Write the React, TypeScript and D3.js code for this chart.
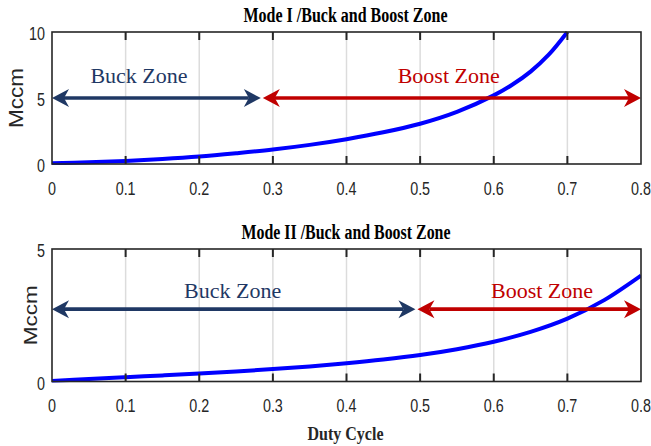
import React from "react";
import * as d3 from "d3";

const dutyTop = [0, 0.05, 0.1, 0.15, 0.2, 0.25, 0.3, 0.35, 0.4, 0.45, 0.5, 0.55, 0.6, 0.625, 0.65, 0.675, 0.7];
const mccmTop = [0.05, 0.13, 0.23, 0.38, 0.57, 0.82, 1.1, 1.45, 1.88, 2.4, 3.05, 3.95, 5.2, 6.0, 7.0, 8.3, 10];

const dutyBot = [0, 0.05, 0.1, 0.15, 0.2, 0.25, 0.3, 0.35, 0.4, 0.45, 0.5, 0.55, 0.6, 0.65, 0.7, 0.75, 0.8];
const mccmBot = [0.02, 0.09, 0.16, 0.23, 0.3, 0.38, 0.47, 0.57, 0.69, 0.83, 1.0, 1.22, 1.5, 1.87, 2.37, 3.07, 4.0];

const xTicks = [0, 0.1, 0.2, 0.3, 0.4, 0.5, 0.6, 0.7, 0.8];
const xTickLabels = ["0", "0.1", "0.2", "0.3", "0.4", "0.5", "0.6", "0.7", "0.8"];

const panels = [
  {
    title: "Mode I /Buck and Boost Zone",
    titleLen: 204,
    duty: dutyTop,
    mccm: mccmTop,
    yMax: 10,
    yTicks: [0, 5, 10],
    arrowY: 5,
    split: 0.285,
    top: 32,
    bottom: 164,
    ylabelX: 15,
    ylabelSize: 21,
  },
  {
    title: "Mode II /Buck and Boost Zone",
    titleLen: 209,
    duty: dutyBot,
    mccm: mccmBot,
    yMax: 5,
    yTicks: [0, 5],
    arrowY: 2.73,
    split: 0.495,
    top: 249,
    bottom: 381.5,
    ylabelX: 31,
    ylabelSize: 18,
  },
];

const LEFT = 52;
const RIGHT = 641;
const NAVY = "#1f3864";
const RED = "#c00000";

function Arrow({ x1, x2, y, color }: { x1: number; x2: number; y: number; color: string }) {
  const L = 17, W = 9, N = 5;
  const head = (tx: number, dir: number) =>
    `M${tx},${y} L${tx - dir * L},${y - W} L${tx - dir * (L - N)},${y} L${tx - dir * L},${y + W} Z`;
  return (
    <g>
      <line x1={x1 + L - N} x2={x2 - L + N} y1={y} y2={y} stroke={color} strokeWidth={3.6} />
      <path d={head(x1, -1)} fill={color} />
      <path d={head(x2, 1)} fill={color} />
    </g>
  );
}

export default function App() {
  const x = d3.scaleLinear().domain([0, 0.8]).range([LEFT, RIGHT]);
  const tickFont = "'Liberation Sans', Arial, sans-serif";
  const serif = "'Liberation Serif', 'Times New Roman', serif";
  return (
    <div style={{ position: "fixed", left: 0, top: 0 }}>
      <svg width={651} height={446} style={{ display: "block", background: "#fff" }}>
        {panels.map((p, i) => {
          const y = d3.scaleLinear().domain([0, p.yMax]).range([p.bottom, p.top]);
          const pts = p.duty.map((d, k) => [d, p.mccm[k]] as [number, number]);
          const line = d3
            .line<[number, number]>()
            .x((d) => x(d[0]))
            .y((d) => y(d[1]))
            .curve(d3.curveCatmullRom.alpha(0.5));
          const ay = y(p.arrowY);
          const sx = x(p.split);
          return (
            <g key={i}>
              {xTicks.slice(1, -1).map((t) => (
                <line key={t} x1={x(t)} x2={x(t)} y1={p.top} y2={p.bottom} stroke="#dcdcdc" strokeWidth={1.5} />
              ))}
              <clipPath id={`clip${i}`}>
                <rect x={LEFT} y={p.top - 1} width={RIGHT - LEFT} height={p.bottom - p.top + 2} />
              </clipPath>
              <path d={line(pts) || ""} fill="none" stroke="#0000ff" strokeWidth={4} clipPath={`url(#clip${i})`} />
              <Arrow x1={x(0)} x2={sx - 1} y={ay} color={NAVY} />
              <Arrow x1={sx + 1} x2={x(0.8)} y={ay} color={RED} />
              <text x={i === 0 ? 139 : 232.7} y={i === 0 ? 83 : 297.7} textAnchor="middle" fontFamily={serif} fontSize={22} fill={NAVY}>
                Buck Zone
              </text>
              <text x={i === 0 ? 448.7 : 542} y={i === 0 ? 83 : 297.7} textAnchor="middle" fontFamily={serif} fontSize={22} fill={RED}>
                Boost Zone
              </text>
              <rect x={LEFT} y={p.top} width={RIGHT - LEFT} height={p.bottom - p.top} fill="none" stroke="#262626" strokeWidth={1.6} />
              {xTicks.slice(1, -1).map((t) => (
                <g key={"tk" + t}>
                  <line x1={x(t)} x2={x(t)} y1={p.bottom} y2={p.bottom - 8} stroke="#262626" strokeWidth={2} />
                  <line x1={x(t)} x2={x(t)} y1={p.top} y2={p.top + 8} stroke="#262626" strokeWidth={2} />
                </g>
              ))}
              {xTicks.map((t, k) => (
                <g key={"lb" + t} transform={`translate(${x(t)},${p.bottom + 30.5}) scale(0.82,1)`}>
                  <text textAnchor="middle" fontFamily={tickFont} fontSize={17.5} fill="#262626">
                    {xTickLabels[k]}
                  </text>
                </g>
              ))}
              {p.yTicks.map((t) => (
                <g key={"yl" + t} transform={`translate(45,${y(t) + 8})`}>
                  <g transform="scale(0.82,1)">
                    <text textAnchor="end" fontFamily={tickFont} fontSize={17.5} fill="#262626">
                      {String(t)}
                    </text>
                  </g>
                </g>
              ))}
              <text
                transform={`translate(${p.ylabelX + p.ylabelSize * 0.36},${(p.top + p.bottom) / 2}) rotate(-90)`}
                textAnchor="middle"
                fontFamily={tickFont}
                fontSize={p.ylabelSize}
                fill="#262626"
                textLength={60}
                lengthAdjust="spacingAndGlyphs"
              >
                Mccm
              </text>
              <text
                x={i === 0 ? 345.5 : 346}
                y={i === 0 ? 22 : 239}
                textAnchor="middle"
                fontFamily={serif}
                fontWeight="bold"
                fontSize={20}
                fill="#000"
                textLength={p.titleLen}
                lengthAdjust="spacingAndGlyphs"
              >
                {p.title}
              </text>
            </g>
          );
        })}
        <text
          x={345.5}
          y={440}
          textAnchor="middle"
          fontFamily={serif}
          fontWeight="bold"
          fontSize={19}
          fill="#262626"
          textLength={76}
          lengthAdjust="spacingAndGlyphs"
        >
          Duty Cycle
        </text>
      </svg>
    </div>
  );
}
